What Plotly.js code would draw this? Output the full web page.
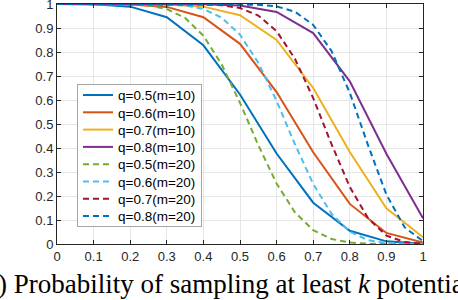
<!DOCTYPE html>
<html>
<head>
<meta charset="utf-8">
<script src="https://cdn.plot.ly/plotly-3.0.1.min.js"></script>
<style>html,body{margin:0;padding:0;background:#fff;}#chart{width:458px;height:300px;}</style>
</head>
<body>
<div id="chart"></div>
<script>
const x10 = [0,0.1,0.2,0.3,0.4,0.5,0.6,0.7,0.8,0.9,1];
const x20 = [0,0.05,0.1,0.15,0.2,0.25,0.3,0.35,0.4,0.45,0.5,0.55,0.6,0.65,0.7,0.75,0.8,0.85,0.9,0.95,1];

const q05m10 = [1,0.999,0.989,0.945,0.828,0.623,0.377,0.172,0.055,0.011,0.001];
const q06m10 = [1,1,0.998,0.988,0.945,0.834,0.633,0.382,0.167,0.046,0.006];
const q07m10 = [1,1,1,0.998,0.989,0.953,0.850,0.650,0.383,0.149,0.028];
const q08m10 = [1,1,1,1,0.999,0.994,0.967,0.879,0.678,0.376,0.107];

const q05m20 = [1,1,1,1,0.999,0.994,0.979,0.942,0.868,0.748,0.588,0.412,0.252,0.132,0.058,0.021,0.006,0.001,0,0,0];
const q06m20 = [1,1,1,1,1,1,0.998,0.994,0.979,0.943,0.872,0.755,0.596,0.416,0.250,0.126,0.051,0.016,0.004,0.001,0];
const q07m20 = [1,1,1,1,1,1,1,1,0.999,0.995,0.983,0.952,0.887,0.772,0.608,0.416,0.238,0.107,0.035,0.008,0.001];
const q08m20 = [1,1,1,1,1,1,1,1,1,1,0.999,0.997,0.990,0.968,0.913,0.804,0.630,0.411,0.206,0.069,0.012];

const names = ["q=0.5(m=10)","q=0.6(m=10)","q=0.7(m=10)","q=0.8(m=10)","q=0.5(m=20)","q=0.6(m=20)","q=0.7(m=20)","q=0.8(m=20)"];
const tickVals = [0,0.1,0.2,0.3,0.4,0.5,0.6,0.7,0.8,0.9,1];
const tickText = ["0","0.1","0.2","0.3","0.4","0.5","0.6","0.7","0.8","0.9","1"];
const caption = "(a) Probability of sampling at least <i>k</i> potential clients";

const colors = ["#0072BD","#D95319","#EDB120","#7E2F8E","#77AC30","#4DBEEE","#A2142F","#0072BD"];
const series = [[x10,q05m10],[x10,q06m10],[x10,q07m10],[x10,q08m10],[x20,q05m20],[x20,q06m20],[x20,q07m20],[x20,q08m20]];

const traces = series.map((s,i)=>({
  x: s[0], y: s[1], name: names[i], type:'scatter', mode:'lines',
  line:{color:colors[i], width:2, dash: i<4 ? 'solid' : '6px,4px'}
}));

const axisCommon = {
  range:[0,1], tickvals:tickVals, ticktext:tickText,
  showgrid:true, gridcolor:'#e6e6e6', gridwidth:1,
  showline:true, linecolor:'#262626', linewidth:1, mirror:'ticks',
  ticks:'inside', ticklen:4, tickcolor:'#262626', ticklabeloverflow:'allow',
  zeroline:false, tickfont:{family:'Liberation Sans, Arial, sans-serif', size:13, color:'#262626'}
};

const layout = {
  width:458, height:300,
  margin:{l:57, r:35, t:4, b:56},
  paper_bgcolor:'#fff', plot_bgcolor:'#fff',
  xaxis: Object.assign({}, axisCommon),
  yaxis: Object.assign({}, axisCommon),
  showlegend:true,
  legend:{x:(77-57)/366, y:(244-84)/240, xanchor:'left', yanchor:'top',
    bgcolor:'#fff', bordercolor:'#a6a6a6', borderwidth:1,
    font:{family:'Liberation Sans, Arial, sans-serif', size:13.5, color:'#000'},
    tracegroupgap:0, itemwidth:30},
  annotations:[{
    xref:'paper', yref:'paper', x:(-25-57)/366, y:(244-284)/240,
    xanchor:'left', yanchor:'middle', showarrow:false, text:caption,
    font:{family:'Liberation Serif, Times New Roman, serif', size:27, color:'#000'}
  }]
};

Plotly.newPlot('chart', traces, layout, {displayModeBar:false, staticPlot:true}).then(function(gd){
  // tighten legend row spacing to match the reference
  const step = 17.3, top = 11;
  const items = gd.querySelectorAll('.legend .traces');
  items.forEach(function(it, i){
    const tr = it.getAttribute('transform') || '';
    const m = tr.match(/translate\(([-\d.]+)[ ,]+([-\d.]+)\)/);
    if(!m) return;
    it.setAttribute('transform', 'translate(' + m[1] + ',' + (top + i*step) + ')');
  });
  const bg = gd.querySelector('.legend rect.bg');
  if(bg && items.length){
    bg.setAttribute('height', (top + (items.length-1)*step + 10).toFixed(1));
  }
});
</script>
</body>
</html>
